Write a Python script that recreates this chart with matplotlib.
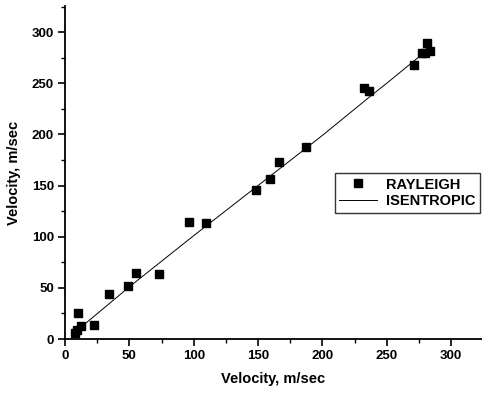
import numpy as np
import matplotlib.pyplot as plt
from matplotlib.ticker import MultipleLocator

plt.rcParams['font.family'] = ['Liberation Sans', 'DejaVu Sans']
plt.rcParams['font.weight'] = 'bold'

# Rayleigh data points
ray_x = [7.8, 9.6, 12.2, 10.3, 22.3, 34.5, 49.0, 55.2, 73.3, 96.7, 109.6,
         148.5, 158.9, 165.9, 187.2, 232.5, 235.9, 270.8, 277.4, 280.0,
         281.5, 283.5]
ray_y = [6.2, 8.8, 12.7, 25.7, 13.7, 43.7, 51.8, 64.5, 63.2, 114.7, 113.1,
         145.6, 156.1, 172.7, 187.4, 245.0, 242.7, 267.8, 279.3, 280.0,
         289.6, 282.0]

# isentropic curve
ise_x = [11, 50, 100, 150, 200, 237, 250, 284]
ise_y = [10, 51, 101, 150, 199, 237, 250, 285]

fig = plt.figure(figsize=(4.82, 3.94), dpi=100)
ax = fig.add_axes([65 / 482, 1 - 339 / 394, 417 / 482, 333 / 394])

ax.plot(ray_x, ray_y, 's', color='black', markersize=6, label='RAYLEIGH',
        clip_on=False)
ax.plot(ise_x, ise_y, '-', color='black', linewidth=0.7, label='ISENTROPIC')

ax.set_xlim(0, 324)
ax.set_ylim(0, 325.5)
ax.spines['top'].set_visible(False)
ax.spines['right'].set_visible(False)
ax.spines['left'].set_linewidth(1.3)
ax.spines['bottom'].set_linewidth(1.3)

ax.xaxis.set_major_locator(MultipleLocator(50))
ax.xaxis.set_minor_locator(MultipleLocator(25))
ax.yaxis.set_major_locator(MultipleLocator(50))
ax.yaxis.set_minor_locator(MultipleLocator(25))
ax.tick_params(which='major', direction='out', length=5, width=1.2,
               labelsize=9.5, pad=3)
ax.tick_params(which='minor', direction='out', length=3, width=1.0)

ax.set_xlabel('Velocity, m/sec', fontsize=10.5, fontweight='bold', labelpad=7)
ax.set_ylabel('Velocity, m/sec', fontsize=10.5, fontweight='bold', labelpad=8)

leg = ax.legend(loc='upper left', bbox_to_anchor=(0.647, 0.498),
                borderaxespad=0, fancybox=False, frameon=True,
                edgecolor='black', fontsize=10.5, handlelength=2.6,
                handletextpad=0.6, borderpad=0.3, labelspacing=0.2,
                numpoints=1)
leg.get_frame().set_linewidth(1.0)

fig.savefig('out.png', dpi=100)
